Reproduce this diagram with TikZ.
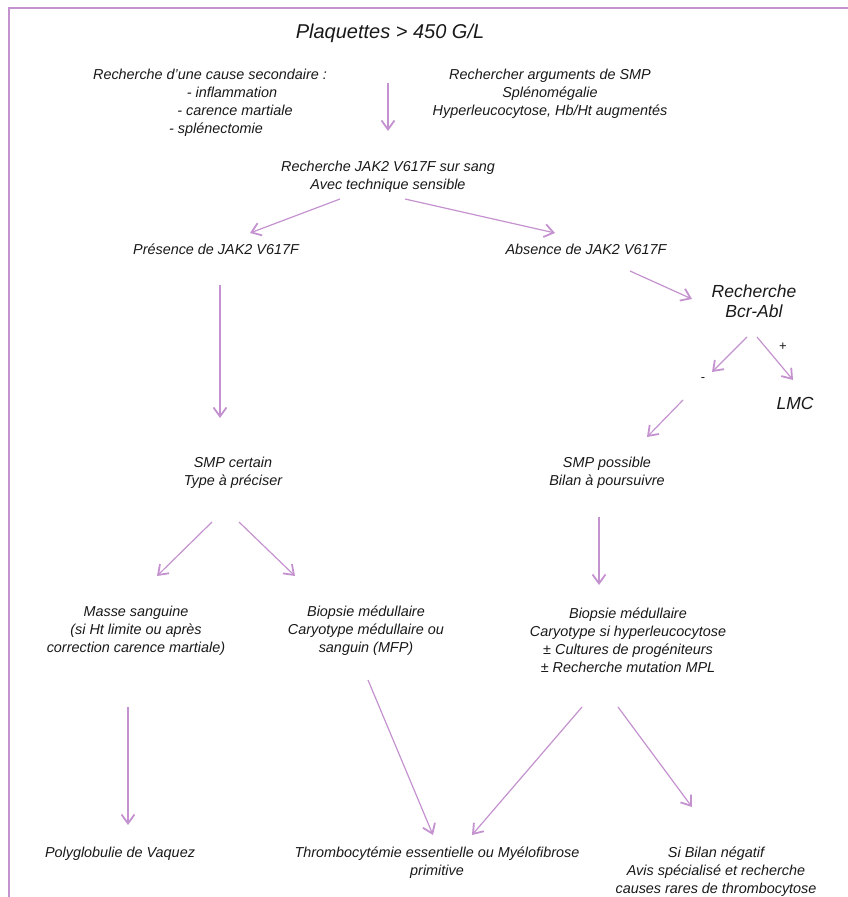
\documentclass[tikz,border=0pt]{standalone}
\usepackage{fontspec}
\setmainfont{Liberation Sans}
\usetikzlibrary{calc,arrows.meta}

\definecolor{lila}{RGB}{196,146,206}
\definecolor{encre}{RGB}{25,25,25}
\tikzset{
  txt/.style={align=center, text=encre, font=\itshape\fontsize{14.4}{18}\selectfont},
  gros/.style={align=center, text=encre, font=\itshape\fontsize{17.5}{20}\selectfont},
  signe/.style={text=encre, font=\fontsize{13}{15}\selectfont},
  arr/.style={draw=lila, line width=1.2pt, -{Straight Barb[length=9pt,width=13pt,line width=1.8pt]}}
}

\begin{document}
\begin{tikzpicture}[x=1pt,y=-1pt]
\useasboundingbox (0,0) rectangle (848,897);
\draw[lila, line width=2pt] (848,8) -| (9,897);

% haut
\node[txt, font=\itshape\fontsize{20}{24}\selectfont] (titre) at (390,33) {Plaquettes > 450 G/L};
\node[txt] (cause) at (210,103) {Recherche d’une cause secondaire :\\ \hspace*{44pt}- inflammation\\ \hspace*{50pt}- carence martiale\\ \hspace*{12pt}- splénectomie};
\node[txt] (argsmp) at (550,94) {Rechercher arguments de SMP\\ Splénomégalie\\ Hyperleucocytose, Hb/Ht augmentés};
\node[txt] (jak) at (388,177) {Recherche JAK2 V617F sur sang\\ Avec technique sensible};

% deux branches
\node[txt] (pres) at (216,249) {Présence de JAK2 V617F};
\node[txt] (abs) at (586,249) {Absence de JAK2 V617F};
\node[gros] (bcr) at (754,301) {Recherche\\ Bcr-Abl};
\node[signe] (moins) at (703,380) {-};
\node[signe] (plus) at (783,347) {+};
\node[gros] (lmc) at (795,403) {LMC};
\node[txt] (smpc) at (233,473) {SMP certain\\ Type à préciser};
\node[txt] (smpp) at (607,473) {SMP possible\\ Bilan à poursuivre};

% examens
\node[txt] (masse) at (136,631) {Masse sanguine\\ (si Ht limite ou après\\ correction carence martiale)};
\node[txt] (biopm) at (366,631) {Biopsie médullaire\\ Caryotype médullaire ou\\ sanguin (MFP)};
\node[txt] (biopr) at (628,640) {Biopsie médullaire\\ Caryotype si hyperleucocytose\\ ± Cultures de progéniteurs\\ ± Recherche mutation MPL};

% conclusions
\node[txt] (vaquez) at (120,854) {Polyglobulie de Vaquez};
\node[txt] (thrombo) at (437,863) {Thrombocytémie essentielle ou Myélofibrose\\ primitive};
\node[txt] (bilan) at (716,872) {Si Bilan négatif\\ Avis spécialisé et recherche\\ causes rares de thrombocytose};

% fleches
\draw[arr] ($(titre)+(-2,50)$) -- ($(jak)+(0,-46)$);
\draw[arr] ($(jak)+(-48,22)$) -- ($(pres)+(34,-16)$);
\draw[arr] ($(jak)+(17,22)$) -- ($(abs)+(-31,-16)$);
\draw[arr] ($(pres)+(4,36)$) -- ($(smpc)+(-13,-55)$);
\draw[arr] ($(abs)+(44,22)$) -- ($(bcr)+(-62,-2)$);
\draw[arr] ($(bcr)+(-7,36)$) -- ($(moins)+(9,-8)$);
\draw[arr] ($(bcr)+(3,36)$) -- ($(lmc)+(-2,-23)$);
\draw[arr] ($(moins)+(-20,20)$) -- ($(smpp)+(40,-36)$);
\draw[arr] ($(smpc)+(-21,49)$) -- ($(masse)+(21,-55)$);
\draw[arr] ($(smpc)+(6,49)$) -- ($(biopm)+(-71,-55)$);
\draw[arr] ($(smpp)+(-8,44)$) -- ($(biopr)+(-29,-55)$);
\draw[arr] ($(masse)+(-8,76)$) -- ($(vaquez)+(8,-29)$);
\draw[arr] ($(biopm)+(2,49)$) -- ($(thrombo)+(-4,-28)$);
\draw[arr] ($(biopr)+(-46,67)$) -- ($(thrombo)+(35,-28)$);
\draw[arr] ($(biopr)+(-10,67)$) -- ($(bilan)+(-24,-65)$);
\end{tikzpicture}
\end{document}
